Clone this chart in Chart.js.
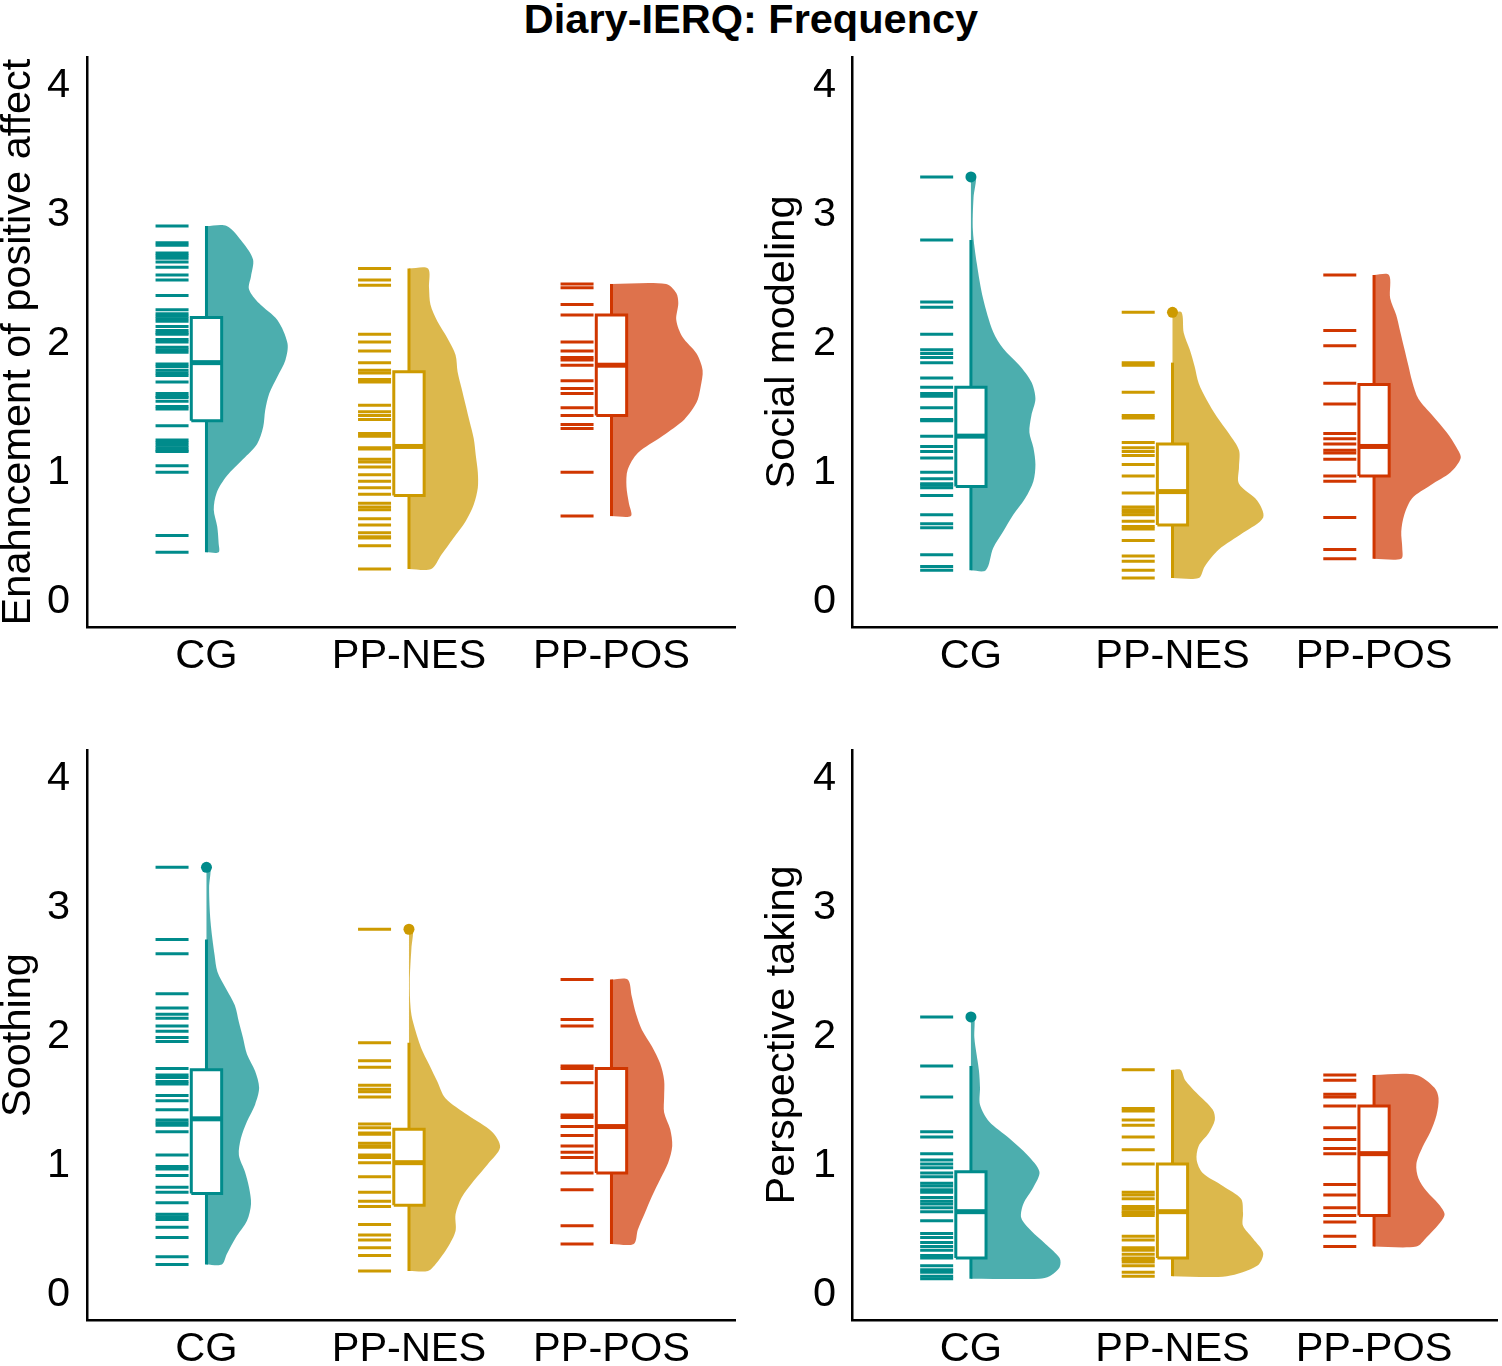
<!DOCTYPE html>
<html>
<head>
<meta charset="utf-8">
<title>Diary-IERQ: Frequency</title>
<script src="https://cdn.jsdelivr.net/npm/chart.js@4.4.1/dist/chart.umd.min.js"></script>
<style>
  body { margin: 0; background: #fff; width: 1502px; height: 1366px; overflow: hidden; position: relative;
         font-family: 'Liberation Sans', Arial, sans-serif; }
  #title { position: absolute; left: 0; top: -2px; width: 1502px; text-align: center;
           font-weight: bold; font-size: 41.5px; line-height: 1; color: #000; }
  canvas { position: absolute; }
</style>
</head>
<body>
<div id="title">Diary-IERQ: Frequency</div>
<canvas id="p1" width="751" height="700" style="left:0;top:0"></canvas>
<canvas id="p2" width="751" height="700" style="left:751px;top:0"></canvas>
<canvas id="p3" width="751" height="666" style="left:0;top:700px"></canvas>
<canvas id="p4" width="751" height="666" style="left:751px;top:700px"></canvas>
<script>
// ---- data ----
const groups = ['CG', 'PP-NES', 'PP-POS'];
const xTicks = [1, 2, 3];
const yTicks = [0, 1, 2, 3, 4];
const yTitles = ['Enahncement of positive affect', 'Social modeling', 'Soothing', 'Perspective taking'];

// individual scores (rug)
const enhCG = [2.91, 2.78, 2.76, 2.70, 2.68, 2.66, 2.63, 2.59, 2.53, 2.49, 2.37, 2.26, 2.23, 2.21, 2.19, 2.17, 2.13, 2.10, 2.08, 2.07, 2.03, 2.01, 1.97, 1.95, 1.93, 1.84, 1.82, 1.79, 1.77, 1.75, 1.70, 1.61, 1.59, 1.58, 1.55, 1.51, 1.49, 1.36, 1.25, 1.23, 1.21, 1.19, 1.17, 1.16, 1.05, 1.00, 0.51, 0.38];
const enhNES = [2.58, 2.49, 2.45, 2.07, 2.01, 1.94, 1.85, 1.79, 1.77, 1.72, 1.70, 1.52, 1.47, 1.44, 1.41, 1.30, 1.28, 1.19, 1.18, 1.10, 1.08, 1.04, 0.98, 0.93, 0.88, 0.83, 0.76, 0.73, 0.71, 0.64, 0.59, 0.53, 0.50, 0.49, 0.43, 0.25];
const enhPOS = [2.46, 2.43, 2.30, 2.22, 2.01, 1.94, 1.89, 1.87, 1.83, 1.71, 1.65, 1.61, 1.50, 1.44, 1.37, 1.34, 1.00, 0.66];

const socCG = [3.29, 2.80, 2.32, 2.28, 2.07, 1.95, 1.92, 1.89, 1.85, 1.73, 1.66, 1.61, 1.59, 1.50, 1.41, 1.40, 1.28, 1.20, 1.16, 1.11, 1.00, 0.95, 0.91, 0.90, 0.88, 0.82, 0.67, 0.60, 0.57, 0.36, 0.27, 0.24];
const socNES = [2.24, 1.85, 1.83, 1.62, 1.44, 1.42, 1.23, 1.19, 1.16, 1.13, 1.06, 0.97, 0.84, 0.73, 0.71, 0.69, 0.67, 0.62, 0.58, 0.56, 0.47, 0.35, 0.31, 0.24, 0.18];
const socPOS = [2.53, 2.10, 1.98, 1.69, 1.53, 1.30, 1.26, 1.22, 1.17, 1.15, 1.10, 0.97, 0.93, 0.65, 0.40, 0.33];

const sooCG = [3.31, 2.75, 2.64, 2.33, 2.22, 2.17, 2.14, 2.08, 2.04, 1.99, 1.96, 1.75, 1.70, 1.68, 1.65, 1.63, 1.54, 1.50, 1.43, 1.35, 1.33, 1.31, 1.26, 1.08, 0.99, 0.97, 0.92, 0.83, 0.79, 0.71, 0.62, 0.60, 0.58, 0.52, 0.44, 0.29, 0.23];
const sooNES = [2.83, 1.95, 1.81, 1.76, 1.62, 1.59, 1.57, 1.53, 1.32, 1.29, 1.25, 1.24, 1.17, 1.15, 1.14, 1.08, 1.06, 1.02, 0.91, 0.79, 0.72, 0.68, 0.54, 0.46, 0.42, 0.36, 0.30, 0.18];
const sooPOS = [2.44, 2.13, 2.08, 1.77, 1.75, 1.64, 1.39, 1.37, 1.30, 1.23, 1.15, 1.10, 1.06, 0.94, 0.81, 0.53, 0.39];

const perCG = [2.15, 1.77, 1.53, 1.26, 1.22, 1.09, 1.04, 1.01, 0.98, 0.94, 0.91, 0.86, 0.84, 0.81, 0.79, 0.75, 0.72, 0.70, 0.67, 0.64, 0.57, 0.47, 0.44, 0.40, 0.37, 0.34, 0.30, 0.28, 0.22, 0.19, 0.17, 0.14, 0.12];
const perNES = [1.74, 1.44, 1.42, 1.35, 1.31, 1.22, 1.12, 1.01, 0.79, 0.77, 0.74, 0.68, 0.66, 0.64, 0.63, 0.61, 0.45, 0.42, 0.36, 0.34, 0.31, 0.28, 0.27, 0.25, 0.22, 0.17, 0.14];
const perPOS = [1.70, 1.66, 1.55, 1.53, 1.46, 1.29, 1.20, 1.13, 1.09, 0.85, 0.77, 0.67, 0.61, 0.56, 0.45, 0.37];

// box stats per group: [lower whisker, Q1, median, Q3, upper whisker]
const enhBoxes = [[0.38, 1.40, 1.85, 2.20, 2.91], [0.25, 0.82, 1.20, 1.78, 2.58], [0.66, 1.44, 1.83, 2.22, 2.46]];
const socBoxes = [[0.24, 0.89, 1.28, 1.66, 2.80], [0.18, 0.59, 0.85, 1.22, 1.85], [0.33, 0.97, 1.20, 1.68, 2.53]];
const sooBoxes = [[0.23, 0.78, 1.36, 1.74, 2.75], [0.18, 0.69, 1.02, 1.28, 1.95], [0.39, 0.94, 1.30, 1.75, 2.44]];
const perBoxes = [[0.12, 0.28, 0.64, 0.95, 1.77], [0.14, 0.28, 0.64, 1.01, 1.74], [0.37, 0.61, 1.09, 1.46, 1.70]];

// outliers per group
const enhOutliers = [[], [], []];
const socOutliers = [[3.29], [2.24], []];
const sooOutliers = [[3.31], [2.83], []];
const perOutliers = [[2.15], [], []];

// half-violin density profiles: [score, half-width in group units], top to bottom
const enhViolinCG = [[2.91, 0.10], [2.78, 0.18], [2.65, 0.23], [2.52, 0.22], [2.42, 0.21], [2.31, 0.26], [2.18, 0.35], [2.00, 0.40], [1.87, 0.39], [1.74, 0.35], [1.61, 0.31], [1.48, 0.29], [1.35, 0.28], [1.22, 0.25], [1.10, 0.18], [0.97, 0.10], [0.84, 0.05], [0.71, 0.036], [0.58, 0.053], [0.45, 0.06], [0.38, 0.06]];
const enhViolinNES = [[2.58, 0.094], [2.43, 0.099], [2.30, 0.106], [2.17, 0.14], [2.04, 0.19], [1.91, 0.23], [1.78, 0.24], [1.65, 0.26], [1.52, 0.28], [1.39, 0.30], [1.26, 0.32], [1.13, 0.33], [1.00, 0.34], [0.88, 0.34], [0.75, 0.32], [0.62, 0.28], [0.49, 0.22], [0.36, 0.16], [0.25, 0.11]];
const enhViolinPOS = [[2.46, 0.27], [2.39, 0.32], [2.31, 0.33], [2.18, 0.32], [2.05, 0.35], [1.92, 0.42], [1.79, 0.45], [1.66, 0.44], [1.54, 0.42], [1.41, 0.36], [1.28, 0.25], [1.15, 0.13], [1.02, 0.08], [0.89, 0.074], [0.76, 0.086], [0.66, 0.096]];

const socViolinCG = [[3.29, 0.025], [3.13, 0.013], [2.87, 0.01], [2.61, 0.03], [2.35, 0.06], [2.09, 0.11], [1.96, 0.16], [1.83, 0.24], [1.70, 0.30], [1.57, 0.32], [1.44, 0.30], [1.31, 0.29], [1.19, 0.31], [1.06, 0.32], [0.93, 0.31], [0.80, 0.27], [0.67, 0.21], [0.54, 0.16], [0.41, 0.11], [0.24, 0.074]];
const socViolinNES = [[2.24, 0.045], [2.08, 0.056], [1.95, 0.086], [1.82, 0.11], [1.69, 0.13], [1.56, 0.17], [1.43, 0.22], [1.30, 0.28], [1.17, 0.33], [1.04, 0.33], [0.91, 0.33], [0.78, 0.42], [0.65, 0.45], [0.53, 0.35], [0.40, 0.23], [0.27, 0.16], [0.18, 0.13]];
const socViolinPOS = [[2.53, 0.074], [2.35, 0.08], [2.22, 0.11], [2.09, 0.13], [1.96, 0.15], [1.83, 0.17], [1.70, 0.19], [1.57, 0.22], [1.44, 0.29], [1.31, 0.36], [1.19, 0.41], [1.11, 0.43], [1.00, 0.38], [0.90, 0.28], [0.80, 0.19], [0.67, 0.15], [0.54, 0.135], [0.41, 0.14], [0.33, 0.135]];

const sooViolinCG = [[3.31, 0.02], [3.15, 0.013], [2.89, 0.02], [2.63, 0.04], [2.50, 0.054], [2.37, 0.096], [2.24, 0.14], [2.11, 0.16], [1.99, 0.18], [1.86, 0.20], [1.73, 0.24], [1.60, 0.26], [1.47, 0.24], [1.34, 0.20], [1.21, 0.17], [1.08, 0.16], [0.95, 0.19], [0.83, 0.21], [0.70, 0.22], [0.57, 0.20], [0.44, 0.145], [0.31, 0.10], [0.23, 0.076]];
const sooViolinNES = [[2.83, 0.02], [2.68, 0.012], [2.42, 0.004], [2.22, 0.008], [2.11, 0.02], [1.91, 0.06], [1.78, 0.10], [1.65, 0.14], [1.52, 0.18], [1.39, 0.29], [1.26, 0.41], [1.14, 0.45], [1.01, 0.39], [0.88, 0.32], [0.75, 0.26], [0.62, 0.23], [0.49, 0.23], [0.36, 0.19], [0.23, 0.13], [0.18, 0.094]];
const sooViolinPOS = [[2.44, 0.08], [2.31, 0.10], [2.18, 0.12], [2.05, 0.15], [1.92, 0.20], [1.79, 0.24], [1.66, 0.26], [1.53, 0.26], [1.41, 0.26], [1.28, 0.29], [1.15, 0.30], [1.02, 0.28], [0.89, 0.24], [0.76, 0.20], [0.63, 0.165], [0.50, 0.13], [0.39, 0.11]];

const perViolinCG = [[2.15, 0.017], [1.99, 0.017], [1.86, 0.028], [1.73, 0.04], [1.60, 0.045], [1.47, 0.045], [1.34, 0.09], [1.21, 0.19], [1.08, 0.28], [0.95, 0.34], [0.83, 0.31], [0.70, 0.26], [0.59, 0.25], [0.49, 0.30], [0.39, 0.37], [0.28, 0.44], [0.21, 0.44], [0.14, 0.39], [0.12, 0.34]];
const perViolinNES = [[1.74, 0.04], [1.66, 0.063], [1.56, 0.12], [1.43, 0.20], [1.35, 0.21], [1.25, 0.18], [1.15, 0.13], [1.04, 0.12], [0.94, 0.15], [0.84, 0.25], [0.74, 0.34], [0.63, 0.35], [0.53, 0.35], [0.43, 0.40], [0.32, 0.45], [0.22, 0.42], [0.14, 0.27]];
const perViolinPOS = [[1.70, 0.21], [1.60, 0.30], [1.52, 0.32], [1.39, 0.31], [1.26, 0.28], [1.14, 0.24], [1.01, 0.21], [0.90, 0.22], [0.80, 0.26], [0.70, 0.32], [0.62, 0.35], [0.54, 0.32], [0.44, 0.26], [0.37, 0.21]];

// ---- style ----
const darkColors = ['#008B8B', '#CD9A00', '#D03600'];
const fillColors = ['rgba(0,139,139,0.7)', 'rgba(205,154,0,0.7)', 'rgba(208,54,0,0.7)'];
const FONT = "'Liberation Sans', Arial, sans-serif";
const BOX_HALF = 0.075;
const RUG_OFFSET = -0.17;

function groupDatasets(i, rug, box, violin, outliers) {
  const c = xTicks[i];
  const dark = darkColors[i];
  const top = violin[0][0];
  const bottom = violin[violin.length - 1][0];
  const outline = [{ x: c, y: top }]
    .concat(violin.map(p => ({ x: c + p[1], y: p[0] })))
    .concat([{ x: c, y: bottom }]);

  return [
    { // half violin
      type: 'line', data: outline, fill: 'shape', backgroundColor: fillColors[i],
      borderWidth: 0, pointRadius: 0, tension: 0.3, order: 5
    },
    { // whisker
      type: 'line', data: [{ x: c, y: box[0] }, { x: c, y: box[4] }],
      borderColor: dark, borderWidth: 3, pointRadius: 0, fill: false, order: 4
    },
    { // rug
      type: 'scatter', data: rug.map(v => ({ x: c + RUG_OFFSET, y: v })),
      pointStyle: 'line', pointRadius: 16.5, pointHoverRadius: 16.5,
      pointBorderColor: dark, pointBorderWidth: 3, order: 3
    },
    { // box
      type: 'line',
      data: [
        { x: c - BOX_HALF, y: box[1] }, { x: c + BOX_HALF, y: box[1] },
        { x: c + BOX_HALF, y: box[3] }, { x: c - BOX_HALF, y: box[3] },
        { x: c - BOX_HALF, y: box[1] }
      ],
      fill: 'shape', backgroundColor: '#fff', borderColor: dark, borderWidth: 3,
      borderJoinStyle: 'miter', tension: 0, pointRadius: 0, order: 2
    },
    { // median
      type: 'line', data: [{ x: c - BOX_HALF, y: box[2] }, { x: c + BOX_HALF, y: box[2] }],
      borderColor: dark, borderWidth: 5, pointRadius: 0, fill: false, order: 1
    },
    { // outliers
      type: 'scatter', data: outliers.map(v => ({ x: c, y: v })),
      pointStyle: 'circle', pointRadius: 5.5, pointHoverRadius: 5.5,
      pointBackgroundColor: dark, pointBorderWidth: 0, order: 0
    }
  ];
}

function makePanel(id, title, rugs, boxes, violins, outliers, lay) {
  let datasets = [];
  for (let i = 0; i < groups.length; i++) {
    datasets = datasets.concat(groupDatasets(i, rugs[i], boxes[i], violins[i], outliers[i]));
  }
  new Chart(document.getElementById(id), {
    type: 'scatter',
    data: { datasets },
    options: {
      responsive: false,
      animation: false,
      events: [],
      layout: { padding: lay.padding, autoPadding: false },
      plugins: { legend: { display: false }, tooltip: { enabled: false } },
      scales: {
        x: {
          type: 'linear', min: 0.41, max: 3.61,
          grid: { display: false, drawTicks: false },
          border: { display: true, color: '#000', width: 2.5 },
          ticks: {
            color: '#000', padding: 5, font: { family: FONT, size: 41.5 },
            callback: (v, idx) => groups[idx]
          },
          afterBuildTicks: s => { s.ticks = xTicks.map(v => ({ value: v })); },
          afterFit: s => { s.height = lay.xH; s.paddingLeft = 0; s.paddingRight = 0; }
        },
        y: {
          type: 'linear', min: -0.2, max: 4.22,
          grid: { display: false, drawTicks: false },
          border: { display: true, color: '#000', width: 2.5 },
          ticks: { color: '#000', padding: lay.tickPad, font: { family: FONT, size: 41.5 } },
          afterBuildTicks: s => { s.ticks = yTicks.map(v => ({ value: v })); },
          afterFit: s => { s.width = lay.yW; s.paddingTop = 0; s.paddingBottom = 0; },
          title: {
            display: true, text: title, color: '#000',
            font: { family: FONT, size: 41.5, lineHeight: 0.9 },
            padding: { top: lay.titlePad, bottom: 0 }
          }
        }
      }
    }
  });
}

makePanel('p1', yTitles[0], [enhCG, enhNES, enhPOS], enhBoxes,
  [enhViolinCG, enhViolinNES, enhViolinPOS], enhOutliers,
  { padding: { left: 0, right: 16, top: 57, bottom: 0 }, yW: 87, xH: 73, tickPad: 17, titlePad: 0 });
makePanel('p2', yTitles[1], [socCG, socNES, socPOS], socBoxes,
  [socViolinCG, socViolinNES, socViolinPOS], socOutliers,
  { padding: { left: 0, right: 5, top: 57, bottom: 0 }, yW: 101, xH: 73, tickPad: 16, titlePad: 13 });
makePanel('p3', yTitles[2], [sooCG, sooNES, sooPOS], sooBoxes,
  [sooViolinCG, sooViolinNES, sooViolinPOS], sooOutliers,
  { padding: { left: 0, right: 16, top: 50, bottom: 0 }, yW: 87, xH: 46, tickPad: 17, titlePad: 0 });
makePanel('p4', yTitles[3], [perCG, perNES, perPOS], perBoxes,
  [perViolinCG, perViolinNES, perViolinPOS], perOutliers,
  { padding: { left: 0, right: 5, top: 50, bottom: 0 }, yW: 101, xH: 46, tickPad: 16, titlePad: 13 });
</script>
</body>
</html>
